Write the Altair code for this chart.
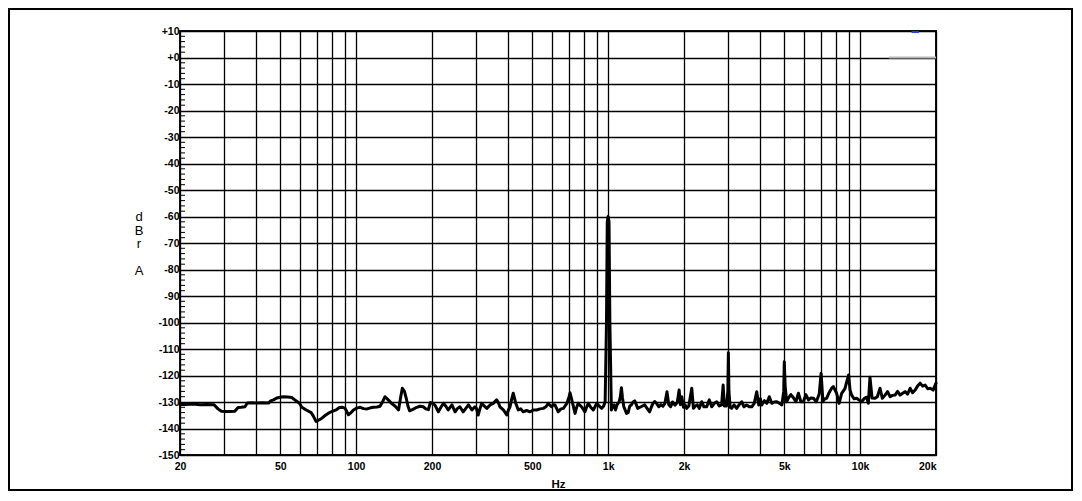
import altair as alt
import pandas as pd

# ---- data ----
FREQ_HZ = [
    20, 21, 22.5, 24, 25.5, 27.3, 28.3, 29.2, 30.3, 31.5, 33.0, 34.0, 35.0, 36.2, 37.0,
    38.5, 40.5, 42.5, 44.9, 45.8, 47.0, 48.4, 50.0, 51.6, 53.5, 55.5, 57.3, 59.6, 60.9,
    63.4, 66.3, 67.8, 69.3, 70.5, 72.9, 75.0, 77.4, 80.0, 83.2, 85.8, 88.0, 90.3, 93.2,
    95.5, 97.6, 100.5, 103.9, 107.0, 110.5, 114.0, 117.2, 121.0, 124.4, 127.5, 130.2,
    134.4, 138.5, 142.9, 147.3, 150.0, 152.5, 155.5, 158.0, 160.5, 163.0, 168.0, 174.0,
    179.0, 184.6, 189.0, 193.5, 197.0, 201.0, 205.5, 212.0, 217.0, 222.0, 227.0, 232.0,
    240.0, 247.0, 252.0, 258.0, 266.0, 272.0, 279.0, 288.0, 296.0, 300.0, 305.0, 310.0,
    315.0, 322.0, 330.0, 340.0, 350.0, 361.0, 366.0, 372.0, 384.0, 396.0, 402.0, 408.0,
    414.0, 420.0, 425.0, 430.0, 440.0, 450.0, 460.0, 475.0, 490.0, 505.0, 520.0, 537.0,
    553.0, 566.0, 579.0, 588.0, 597.0, 606.0, 615.0, 625.0, 634.0, 650.0, 664.0, 686.0,
    700.0, 706.0, 712.0, 723.0, 739.0, 750.0, 761.0, 772.0, 785.0, 797.0, 809.0, 821.0,
    834.0, 853.0, 873.0, 887.0, 901.0, 920.0, 943.0, 960.0, 973.0, 985.0, 992.0, 1000.0,
    1008.0, 1016.0, 1030.0, 1042.0, 1055.0, 1070.0, 1085.0, 1105.0, 1118.0, 1129.0,
    1140.0, 1154.0, 1168.0, 1183.0, 1201.0, 1218.0, 1236.0, 1255.0, 1275.0, 1293.0,
    1311.0, 1350.0, 1396.0, 1430.0, 1461.0, 1500.0, 1530.0, 1555.0, 1590.0, 1620.0,
    1650.0, 1680.0, 1712.0, 1740.0, 1770.0, 1800.0, 1840.0, 1880.0, 1913.0, 1935.0,
    1960.0, 1990.0, 2020.0, 2050.0, 2090.0, 2147.0, 2180.0, 2220.0, 2260.0, 2300.0,
    2351.0, 2400.0, 2461.0, 2520.0, 2576.0, 2640.0, 2697.0, 2760.0, 2820.0, 2860.0,
    2890.0, 2950.0, 2985.0, 3000.0, 3015.0, 3050.0, 3090.0, 3160.0, 3236.0, 3310.0,
    3388.0, 3460.0, 3547.0, 3630.0, 3714.0, 3800.0, 3888.0, 3960.0, 4020.0, 4070.0,
    4170.0, 4261.0, 4360.0, 4461.0, 4560.0, 4671.0, 4780.0, 4890.0, 4975.0, 5000.0,
    5040.0, 5110.0, 5190.0, 5310.0, 5434.0, 5560.0, 5689.0, 5820.0, 5956.0, 6090.0,
    6236.0, 6380.0, 6529.0, 6700.0, 6880.0, 7000.0, 7120.0, 7240.0, 7360.0, 7530.0,
    7706.0, 7830.0, 8067.0, 8250.0, 8446.0, 8700.0, 9000.0, 9120.0, 9250.0, 9470.0,
    9685.0, 9900.0, 10140.0, 10400.0, 10615.0, 10780.0, 10940.0, 11150.0, 11455.0,
    11700.0, 11993.0, 12250.0, 12555.0, 12850.0, 13144.0, 13450.0, 13760.0, 14080.0,
    14406.0, 14740.0, 15081.0, 15430.0, 15788.0, 16150.0, 16529.0, 16900.0, 17304.0,
    17700.0, 18115.0, 18530.0, 18965.0, 19480.0, 20000.0,
]
LEVEL_DB = [
    -130.9, -130.9, -130.8, -131.0, -130.9, -131.0, -132.6, -133.5, -133.6, -133.6, -133.5, -132.1, -132.0, -131.8, -130.4,
    -130.3, -130.4, -130.3, -130.4, -129.6, -129.2, -128.5, -128.2, -128.0, -128.1, -128.3, -129.3, -130.5, -132.0,
    -133.0, -134.0, -135.5, -137.3, -137.0, -136.2, -135.2, -134.3, -133.6, -133.0, -132.1, -132.0, -132.3, -134.8,
    -134.0, -133.0, -132.3, -132.0, -132.5, -132.6, -132.2, -132.0, -131.9, -131.6, -129.8, -128.0,
    -129.3, -130.6, -131.6, -133.0, -128.5, -124.8, -126.0, -128.5, -131.5, -133.3, -132.8, -132.0,
    -131.6, -131.8, -132.6, -132.9, -130.2, -130.5, -131.2, -133.7, -132.0, -130.5, -131.6, -133.0,
    -131.1, -133.7, -132.5, -131.8, -133.7, -132.5, -131.1, -133.0, -131.8, -132.4, -134.9, -132.5,
    -130.5, -131.5, -132.4, -131.1, -130.5, -129.2, -130.0, -131.8, -133.0, -134.9, -133.0, -131.8,
    -129.0, -126.7, -128.5, -130.5, -133.0, -132.6, -133.7, -133.2, -133.7, -133.0, -133.0, -132.6,
    -132.4, -131.8, -130.5, -131.3, -131.8, -131.0, -131.1, -132.5, -133.7, -132.6, -132.4, -130.5,
    -128.0, -126.5, -128.0, -130.5, -134.3, -132.0, -130.5, -131.2, -131.8, -132.8, -133.7, -132.0,
    -130.5, -132.0, -133.0, -131.8, -130.5, -131.5, -132.4, -131.5, -129.9, -100.0, -62.0, -60.0,
    -62.0, -100.0, -133.0, -131.5, -131.1, -133.0, -131.0, -130.0, -128.0, -124.6,
    -128.5, -131.8, -133.0, -134.3, -134.0, -131.5, -131.1, -130.0, -129.6, -131.0,
    -132.4, -131.8, -131.1, -132.5, -133.7, -130.8, -129.8, -130.5, -131.8, -131.0,
    -131.6, -130.5, -126.1, -131.0, -131.8, -130.0, -131.2, -130.2, -125.5, -131.0,
    -128.0, -132.0, -131.1, -132.4, -131.5, -124.8, -132.4, -131.5, -131.1, -132.4,
    -129.9, -131.8, -131.8, -129.2, -131.8, -130.5, -129.9, -131.5, -131.1, -123.6,
    -131.5, -131.5, -126.0, -111.4, -126.0, -132.0, -132.4, -131.1, -132.4, -131.0,
    -129.9, -131.8, -131.1, -131.8, -131.8, -130.5, -126.1, -131.1, -128.8, -131.1,
    -129.5, -130.5, -128.0, -130.5, -130.0, -129.9, -130.5, -131.1, -126.0, -114.8,
    -124.0, -129.9, -128.5, -127.2, -128.4, -129.9, -126.7, -129.9, -129.9, -127.2,
    -129.2, -128.5, -128.6, -129.9, -127.0, -119.2, -129.9, -128.8, -128.6, -126.5,
    -124.8, -124.2, -126.7, -130.5, -126.7, -125.0, -119.8, -125.5, -127.4, -128.8,
    -128.6, -129.2, -129.9, -128.6, -128.2, -130.5, -120.7, -128.5, -128.6,
    -128.0, -124.8, -128.6, -127.4, -126.1, -128.0, -127.5, -127.4, -126.0,
    -127.4, -126.7, -126.1, -127.0, -124.8, -126.5, -125.5, -124.0, -122.9,
    -124.0, -123.6, -125.0, -124.8, -125.5, -122.9,
]
X_GRID = [20, 30, 40, 50, 60, 70, 80, 90, 100, 200, 300, 400, 500, 600, 700, 800, 900,
          1000, 2000, 3000, 4000, 5000, 6000, 7000, 8000, 9000, 10000, 20000]
X_LABELED = [20, 50, 100, 200, 500, 1000, 2000, 5000, 10000, 20000]
Y_MAJOR = [10, 0, -10, -20, -30, -40, -50, -60, -70, -80, -90, -100, -110, -120, -130, -140, -150]
Y_MINOR = [v for v in range(-148, 10, 2) if v % 10 != 0]
Y_TITLE_UNIT = ["d", "B", "r"]
Y_TITLE_WEIGHT = "A"

# second-trace remnants seen at top right
GRAY_SEG = {"Hz": [13000], "Hz2": [20000], "dB": [0]}
BLUE_SEG = {"Hz": [16000], "Hz2": [17100], "dB": [9.6]}

FONT = "Liberation Sans"
xscale = alt.Scale(type="log", domain=[20, 20000], nice=False)
yscale = alt.Scale(domain=[-150, 10], nice=False, zero=False)

labeled = "[" + ",".join(str(v) for v in X_LABELED) + "]"
x_axis = alt.Axis(
    values=X_GRID, grid=True, gridColor="#000000", gridWidth=1.3, gridOpacity=1,
    ticks=False, domain=False, labelOverlap=False, labelFlush=False,
    labelExpr=(f"indexof({labeled}, datum.value) >= 0 ? "
               "(datum.value >= 1000 ? (datum.value / 1000) + 'k' : '' + datum.value) : ''"),
    labelAlign={"condition": {"test": "datum.value >= 20000", "value": "right"}, "value": "center"},
    labelFont=FONT, labelFontWeight="bold", labelFontSize=10.5, labelColor="#000000",
    labelPadding=6,
    title="Hz", titleFont=FONT, titleFontWeight="bold", titleFontSize=11.5,
    titleColor="#000000", titlePadding=7,
)
y_axis = alt.Axis(
    values=Y_MAJOR, grid=True, gridColor="#000000", gridWidth=1.3, gridOpacity=1,
    ticks=False, domain=False, labelOverlap=False,
    labelExpr="datum.value > 0 ? '+' + datum.value : (datum.value == 0 ? '+0' : '' + datum.value)",
    labelFont=FONT, labelFontWeight="bold", labelFontSize=10.5, labelColor="#000000",
    labelPadding=1, title=None,
)

X = alt.X("Hz:Q", scale=xscale, axis=x_axis)
Y = alt.Y("dB:Q", scale=yscale, axis=y_axis)

trace = alt.Chart(pd.DataFrame({"Hz": FREQ_HZ, "dB": LEVEL_DB})).mark_line(
    color="#000000", strokeWidth=3, strokeJoin="round", strokeCap="round"
).encode(x=X, y=Y)

minor = alt.Chart(pd.DataFrame({"dB": Y_MINOR})).mark_rule(
    color="#000000", strokeWidth=1
).encode(y=Y, x=alt.value(0), x2=alt.value(5))

gray = alt.Chart(pd.DataFrame(GRAY_SEG)).mark_rule(color="#b8b8b8", strokeWidth=2).encode(
    x=X, x2="Hz2:Q", y=Y,
)
blue = alt.Chart(pd.DataFrame(BLUE_SEG)).mark_rule(color="#2b3fe6", strokeWidth=2).encode(
    x=X, x2="Hz2:Q", y=Y,
)

one = pd.DataFrame({"k": [0]})
title_style = dict(font=FONT, fontSize=13, color="#000000", align="center", baseline="top",
                   lineHeight=13.5)
ytitle1 = alt.Chart(one).mark_text(text=Y_TITLE_UNIT, **title_style).encode(
    x=alt.value(-41), y=alt.value(180),
)
ytitle2 = alt.Chart(one).mark_text(text=Y_TITLE_WEIGHT, **title_style).encode(
    x=alt.value(-41), y=alt.value(234),
)

frame = alt.Chart(one).mark_rect(
    filled=False, stroke="#000000", strokeWidth=2
).encode(
    x=alt.value(-171), x2=alt.value(892), y=alt.value(-22), y2=alt.value(459),
)

chart = alt.layer(trace, minor, gray, blue, ytitle1, ytitle2, frame).properties(
    width=756, height=424,
    autosize=alt.AutoSizeParams(type="none"),
    padding={"left": 172, "top": 23, "right": 138, "bottom": 37},
    background="#ffffff",
).configure_view(stroke="#111111", strokeWidth=2)

chart.save("out.html", embed_options={"renderer": "svg", "actions": False})
